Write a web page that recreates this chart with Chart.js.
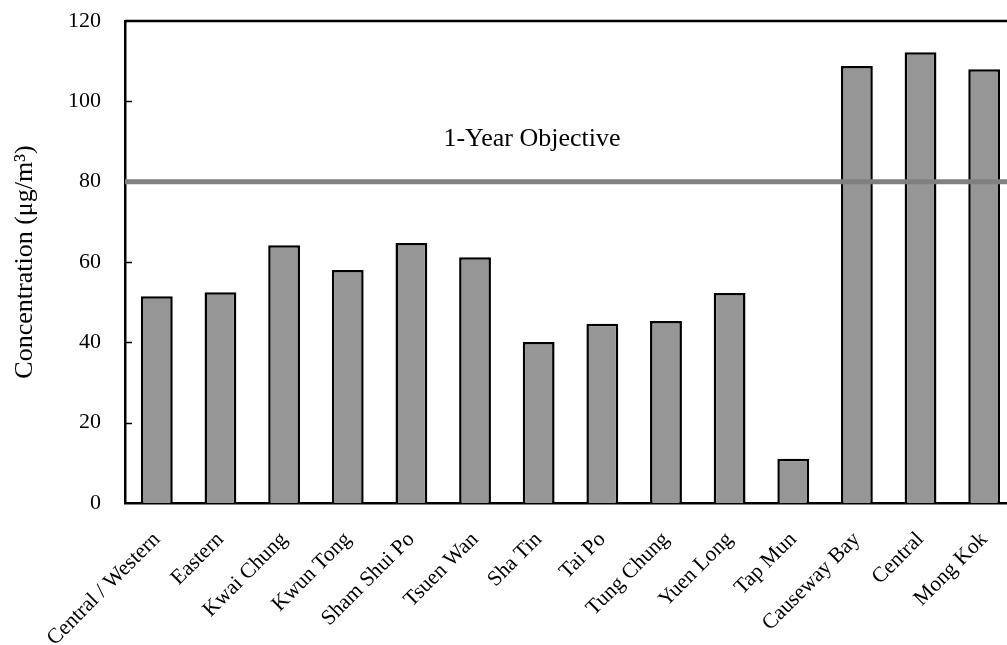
<!DOCTYPE html>
<html>
<head>
<meta charset="utf-8">
<script src="https://cdn.jsdelivr.net/npm/chart.js@4.4.1/dist/chart.umd.min.js"></script>
<style>
  html, body { margin: 0; padding: 0; background: #fff; overflow: hidden; }
  #wrap { width: 1016px; height: 645px; }
</style>
</head>
<body>
<div id="wrap"><canvas id="chart"></canvas></div>
<script>
// monitoring stations and annual mean concentrations
const stations = [
  "Central / Western", "Eastern", "Kwai Chung", "Kwun Tong", "Sham Shui Po",
  "Tsuen Wan", "Sha Tin", "Tai Po", "Tung Chung", "Yuen Long", "Tap Mun",
  "Causeway Bay", "Central", "Mong Kok"
];
const concentration = [51.5, 52.5, 64.2, 58, 64.7, 61.2, 40.1, 44.6, 45.3, 52.3, 11, 108.8, 112.2, 108];
const objectiveValue = 80;
const objectiveLabel = "1-Year Objective";
const yTicks = [0, 20, 40, 60, 80, 100, 120];

const serif = "'Liberation Serif', 'Times New Roman', serif";

// frame, inside tick marks and the objective line
const overlay = {
  id: "overlay",
  beforeDatasetsDraw(chart) {
    const { ctx, chartArea: a, scales: { y } } = chart;
    ctx.save();
    ctx.strokeStyle = "#000";
    ctx.lineWidth = 2.5;
    ctx.beginPath();
    ctx.moveTo(a.left, a.top);
    ctx.lineTo(a.right, a.top);
    ctx.stroke();
    ctx.lineWidth = 1.5;
    yTicks.slice(1, -1).forEach(v => {
      const py = Math.round(y.getPixelForValue(v)) + 0.5;
      ctx.beginPath();
      ctx.moveTo(a.left, py);
      ctx.lineTo(a.left + 7, py);
      ctx.stroke();
    });
    ctx.restore();
  },
  afterDatasetsDraw(chart) {
    const { ctx, chartArea: a, scales: { y } } = chart;
    const py = y.getPixelForValue(objectiveValue);
    ctx.save();
    ctx.strokeStyle = "#808080";
    ctx.lineWidth = 5;
    ctx.beginPath();
    ctx.moveTo(a.left, py);
    ctx.lineTo(a.right, py);
    ctx.stroke();
    ctx.fillStyle = "#000";
    ctx.font = "26px " + serif;
    ctx.textAlign = "center";
    ctx.textBaseline = "middle";
    ctx.fillText(objectiveLabel, 532, y.getPixelForValue(90.6));
    ctx.restore();
  }
};

new Chart(document.getElementById("chart"), {
  type: "bar",
  data: {
    labels: stations,
    datasets: [{
      data: concentration,
      backgroundColor: "#969696",
      borderColor: "#000",
      borderWidth: 2.5,
      barPercentage: 0.5,
      categoryPercentage: 1
    }]
  },
  options: {
    responsive: true,
    maintainAspectRatio: false,
    animation: false,
    layout: { padding: { top: 21, right: 0, left: 0, bottom: 0 } },
    plugins: { legend: { display: false }, tooltip: { enabled: false } },
    scales: {
      x: {
        grid: { display: false, drawTicks: false },
        border: { color: "#000", width: 2.5 },
        ticks: {
          color: "#000",
          font: { family: serif, size: 21.5 },
          minRotation: 45,
          maxRotation: 45,
          padding: 24,
          autoSkip: false
        },
        afterFit(scale) {
          scale.height = 142;
          scale.paddingLeft = 0;
          scale.paddingRight = 0;
        }
      },
      y: {
        min: 0,
        max: 120,
        grid: { display: false, drawTicks: false },
        border: { color: "#000", width: 2.5 },
        ticks: {
          stepSize: 20,
          color: "#000",
          font: { family: serif, size: 22 },
          padding: 24
        },
        title: {
          display: true,
          text: "Concentration (μg/m³)",
          color: "#000",
          font: { family: serif, size: 26 },
          padding: { top: 10, bottom: 0 }
        },
        afterFit(scale) {
          scale.width = 125;
          scale.paddingTop = 0;
          scale.paddingBottom = 0;
        }
      }
    }
  },
  plugins: [overlay]
});
</script>
</body>
</html>
